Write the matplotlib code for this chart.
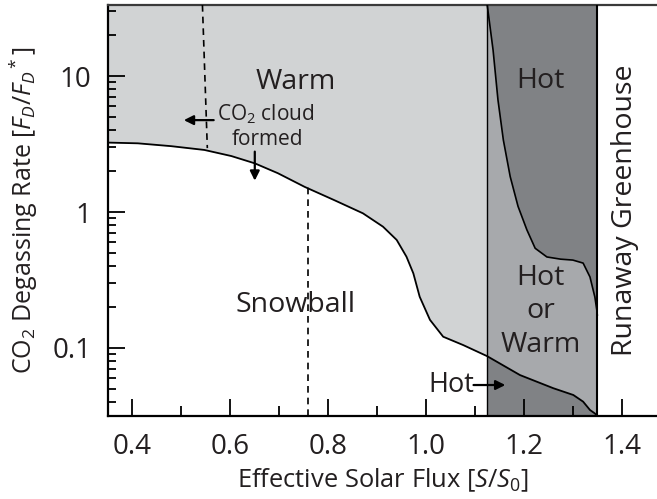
import numpy as np
import matplotlib
matplotlib.use("Agg")
import matplotlib.pyplot as plt

plt.rcParams['font.family'] = ['Open Sans', 'DejaVu Sans']
plt.rcParams['mathtext.fontset'] = 'custom'
plt.rcParams['mathtext.rm'] = 'Open Sans'
plt.rcParams['mathtext.it'] = 'Open Sans:italic'

# warm / snowball boundary
warm_x = [0.35, 0.411, 0.479, 0.547, 0.602, 0.650, 0.697, 0.752, 0.813,
          0.871, 0.912, 0.940, 0.960, 0.974, 0.987, 1.008, 1.035, 1.076,
          1.125, 1.192, 1.260, 1.301, 1.321, 1.335, 1.345, 1.350]
warm_y = [3.24, 3.20, 3.05, 2.86, 2.58, 2.28, 1.93, 1.53, 1.22,
          0.978, 0.780, 0.623, 0.469, 0.354, 0.238, 0.161, 0.121, 0.105,
          0.087, 0.0632, 0.0506, 0.0451, 0.0403, 0.0350, 0.0330, 0.0316]

# hot / hot-or-warm boundary
hot_x = [1.125, 1.137, 1.147, 1.158, 1.172, 1.188, 1.206, 1.223, 1.247,
         1.275, 1.300, 1.321, 1.335, 1.345, 1.349, 1.350]
hot_y = [33.3, 15.5, 6.66, 3.38, 1.82, 1.10, 0.740, 0.541, 0.467,
         0.450, 0.443, 0.421, 0.333, 0.237, 0.190, 0.175]

band_left, band_right = 1.125, 1.35
co2_cloud_x = [0.543, 0.553]
co2_cloud_y = [33.3, 2.95]
snow_dash_x = 0.758
snow_dash_y = [0.0316, 1.52]

xmin, xmax = 0.35, 1.472
ymin, ymax = 0.0316, 33.3

light, mid, dark = '#d1d3d4', '#a7a9ac', '#808285'
tc = '#231f20'

fig = plt.figure(figsize=(6.57, 4.99), dpi=100)
ax = fig.add_axes([108/657, 83/499, 549/657, 411/499])
ax.set_yscale('log')
ax.set_xlim(xmin, xmax)
ax.set_ylim(ymin, ymax)

wx = np.array(warm_x)
wy = np.array(warm_y)
hx = np.array(hot_x)
hy = np.array(hot_y)

# light grey: warm region left of the band
left = wx <= band_left
ax.fill_between(wx[left], wy[left], ymax, color=light, lw=0, zorder=1)
# dark band
ax.axvspan(band_left, band_right, color=dark, lw=0, zorder=1)
# hot or warm region inside the band
inb = wx >= band_left
px = np.concatenate([hx, [band_right], wx[inb][::-1]])
py = np.concatenate([hy, [ymin], wy[inb][::-1]])
ax.fill(px, py, color=mid, lw=0, zorder=2)

ax.plot(wx, wy, color='black', lw=1.3, zorder=4, solid_joinstyle='round')
ax.plot(hx, hy, color='black', lw=1.2, zorder=4, solid_joinstyle='round')
ax.axvline(band_left, color='black', lw=1.0, zorder=4)
ax.axvline(band_right, color='black', lw=1.5, zorder=4)
ax.plot(co2_cloud_x, co2_cloud_y, color='black', lw=1.2, ls=(0, (4, 3)), zorder=4)
ax.plot([snow_dash_x, snow_dash_x], snow_dash_y, color='black', lw=1.2,
        ls=(0, (4, 3)), zorder=4)

arrow = dict(arrowstyle='-|>', color='black', lw=1.6, mutation_scale=14,
             shrinkA=0, shrinkB=0)
ax.annotate('', xy=(0.505, 4.74), xytext=(0.566, 4.74), arrowprops=arrow, zorder=5)
ax.annotate('', xy=(0.650, 1.70), xytext=(0.650, 2.78), arrowprops=arrow, zorder=5)
ax.annotate('', xy=(1.162, 0.0534), xytext=(1.097, 0.0534), arrowprops=arrow, zorder=5)

big = 20.5
ax.text(0.733, 7.98, 'Warm', fontsize=big, ha='center', va='baseline', color=tc, zorder=6)
ax.text(0.673, 4.69, 'CO$_2$ cloud', fontsize=15, ha='center', va='baseline',
        color=tc, zorder=6)
ax.text(0.675, 3.11, 'formed', fontsize=15, ha='center', va='baseline',
        color=tc, zorder=6)
ax.text(0.733, 0.184, 'Snowball', fontsize=big, ha='center', va='baseline', color=tc, zorder=6)
ax.text(1.234, 8.12, 'Hot', fontsize=big, ha='center', va='baseline', color=tc, zorder=6)
ax.text(1.234, 0.290, 'Hot', fontsize=big, ha='center', va='baseline', color=tc, zorder=6)
ax.text(1.234, 0.165, 'or', fontsize=big, ha='center', va='baseline', color=tc, zorder=6)
ax.text(1.234, 0.094, 'Warm', fontsize=big, ha='center', va='baseline', color=tc, zorder=6)
ax.text(1.098, 0.0478, 'Hot', fontsize=19.5, ha='right', va='baseline', color=tc, zorder=6)
ax.text(1.407, 1.035, 'Runaway Greenhouse', fontsize=big, ha='center', va='center',
        rotation=90, color=tc, zorder=6)

ax.set_xticks([0.4, 0.6, 0.8, 1.0, 1.2, 1.4])
ax.set_xticklabels(['0.4', '0.6', '0.8', '1.0', '1.2', '1.4'])
ax.set_xticks([0.5, 0.7, 0.9, 1.1, 1.3], minor=True)
ax.set_yticks([0.1, 1, 10])
ax.set_yticklabels(['0.1', '1', '10'])
ax.tick_params(which='both', direction='in', width=1.3, labelsize=20,
               colors='black', labelcolor=tc, pad=12)
ax.tick_params(which='major', length=12)
ax.tick_params(which='minor', length=6)
ax.tick_params(axis='x', which='minor', length=7)

for s in ['left', 'bottom']:
    ax.spines[s].set_linewidth(1.6)
ax.spines['top'].set_linewidth(1.6)
ax.spines['top'].set_color('#3a3a3a')
ax.spines['right'].set_visible(False)

ax.set_xlabel(r'Effective Solar Flux [$S$/$S_0$]', fontsize=18.4, color=tc, labelpad=4)
ax.set_ylabel(r'CO$_2$ Degassing Rate [$F_D$/$F_D$$^*$]', fontsize=18, color=tc, labelpad=9)

fig.savefig('out.png', dpi=100)
